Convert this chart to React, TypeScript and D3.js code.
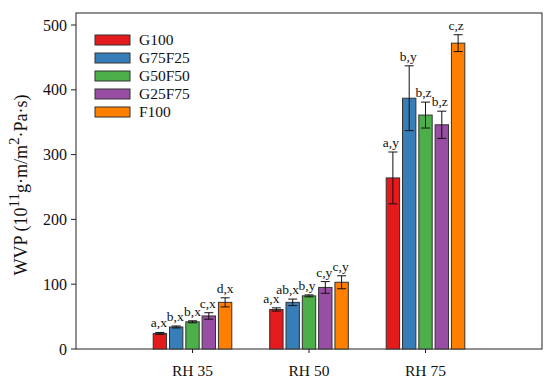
import { useEffect, useRef } from 'react'
import * as d3 from 'd3'

const groups = ['RH 35', 'RH 50', 'RH 75']
const series = ['G100', 'G75F25', 'G50F50', 'G25F75', 'F100']
const colors = ['#E41A1C', '#377EB8', '#4DAF4A', '#984EA3', '#FF7F00']

// rows = series, columns = groups
const means = [
    [24, 61, 264],
    [34, 72, 387],
    [42, 82, 361],
    [51, 95, 346],
    [72, 103, 472],
]
const errors = [
    [1.5, 2.5, 40],
    [1.5, 5, 50],
    [1.5, 1.5, 20],
    [5, 9, 21],
    [7, 10, 13],
]
const letters = [
    ['a,x', 'a,x', 'a,y'],
    ['b,x', 'ab,x', 'b,y'],
    ['b,x', 'b,y', 'b,z'],
    ['c,x', 'c,y', 'b,z'],
    ['d,x', 'c,y', 'c,z'],
]
// small horizontal nudges of the letter labels, as in the original
const nudges = [
    [-1, -5, -2],
    [-1, -5, -1],
    [0, -2, -2],
    [-1, -1, -2],
    [0, -1, -2],
]
const yTicks = [0, 100, 200, 300, 400, 500]

const W = 550
const H = 383
const left = 76
const right = 542
const top = 13
const bottom = 349
const font = '"Liberation Serif", "Times New Roman", serif'

export default function App() {
    const ref = useRef<SVGSVGElement>(null)

    useEffect(() => {
        const svg = d3.select(ref.current)
        svg.selectAll('*').remove()

        const x = d3.scaleLinear().domain([0, 4]).range([left, right])
        const inner = d3.scaleBand().domain(series).range([-39.3, 39.3]).paddingInner(0.18)
        const y = d3.scaleLinear().domain([0, 500]).range([bottom, 25])

        // frame
        svg.append('rect')
            .attr('x', left)
            .attr('y', top)
            .attr('width', right - left)
            .attr('height', bottom - top)
            .attr('fill', 'none')
            .attr('stroke', '#222')
            .attr('stroke-width', 1)

        // bars
        const bars = svg.append('g')
        series.forEach((s, j) => {
            groups.forEach((g, i) => {
                const bx = x(i + 1) + (inner(s) as number)
                const bw = inner.bandwidth()
                const m = means[j][i]
                const e = errors[j][i]
                bars.append('rect')
                    .attr('x', bx)
                    .attr('y', y(m))
                    .attr('width', bw)
                    .attr('height', y(0) - y(m))
                    .attr('fill', colors[j])
                    .attr('stroke', '#333')
                    .attr('stroke-width', 1)
                const cx = bx + bw / 2
                const eb = bars.append('g').attr('stroke', '#111').attr('stroke-width', 1)
                eb.append('line').attr('x1', cx).attr('x2', cx).attr('y1', y(m + e)).attr('y2', y(m - e))
                eb.append('line').attr('x1', cx - 4.5).attr('x2', cx + 4.5).attr('y1', y(m + e)).attr('y2', y(m + e))
                eb.append('line').attr('x1', cx - 4.5).attr('x2', cx + 4.5).attr('y1', y(m - e)).attr('y2', y(m - e))
                bars.append('text')
                    .attr('x', cx + nudges[j][i])
                    .attr('y', y(m + e) - 5)
                    .attr('text-anchor', 'middle')
                    .attr('font-family', font)
                    .attr('font-size', 13.5)
                    .attr('fill', '#111')
                    .text(letters[j][i])
            })
        })

        // y axis
        const ya = svg.append('g')
        yTicks.forEach((t) => {
            ya.append('line')
                .attr('x1', left - 5)
                .attr('x2', left)
                .attr('y1', y(t))
                .attr('y2', y(t))
                .attr('stroke', '#222')
            ya.append('text')
                .attr('x', left - 9)
                .attr('y', y(t))
                .attr('dy', '0.35em')
                .attr('text-anchor', 'end')
                .attr('font-family', font)
                .attr('font-size', 16)
                .attr('fill', '#111')
                .text(t)
        })

        // x axis
        const xa = svg.append('g')
        groups.forEach((g, i) => {
            xa.append('line')
                .attr('x1', x(i + 1))
                .attr('x2', x(i + 1))
                .attr('y1', bottom)
                .attr('y2', bottom + 4)
                .attr('stroke', '#222')
            xa.append('text')
                .attr('x', x(i + 1))
                .attr('y', 376)
                .attr('text-anchor', 'middle')
                .attr('font-family', font)
                .attr('font-size', 15.5)
                .attr('fill', '#111')
                .text(g)
        })

        // y label
        const yl = svg.append('text')
            .attr('transform', `translate(27,185) rotate(-90)`)
            .attr('text-anchor', 'middle')
            .attr('font-family', font)
            .attr('font-size', 18)
            .attr('fill', '#111')
        yl.append('tspan').text('WVP (10')
        yl.append('tspan').attr('dy', -8).attr('font-size', 15).text('11')
        yl.append('tspan').attr('dy', 8).text('g·m/m')
        yl.append('tspan').attr('dy', -8).attr('font-size', 15).text('2')
        yl.append('tspan').attr('dy', 8).text('·Pa·s)')

        // legend
        const lg = svg.append('g')
        series.forEach((s, j) => {
            const ly = 40 + j * 18
            lg.append('rect')
                .attr('x', 95)
                .attr('y', ly - 5)
                .attr('width', 35)
                .attr('height', 10)
                .attr('fill', colors[j])
                .attr('stroke', '#333')
            lg.append('text')
                .attr('x', 139)
                .attr('y', ly)
                .attr('dy', '0.35em')
                .attr('font-family', font)
                .attr('font-size', 15.5)
                .attr('fill', '#111')
                .text(s)
        })
    }, [])

    return (
        <svg
            ref={ref}
            width={W}
            height={H}
            style={{ position: 'absolute', left: 0, top: 0, background: '#fff' }}
        />
    )
}
